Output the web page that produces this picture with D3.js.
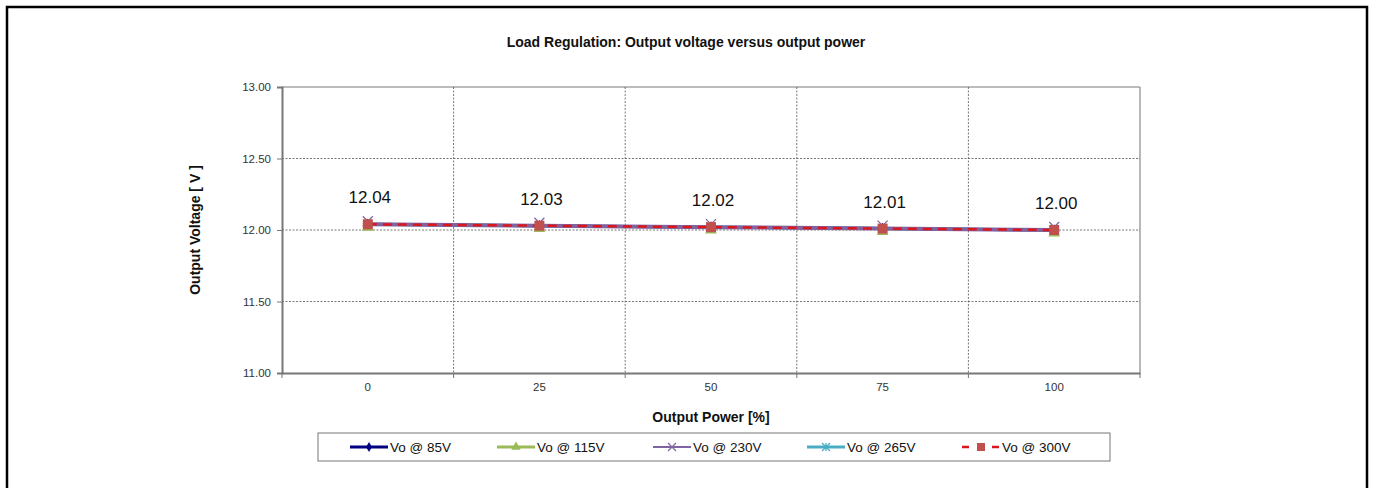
<!DOCTYPE html>
<html><head><meta charset="utf-8">
<script src="https://cdn.jsdelivr.net/npm/d3@7/dist/d3.min.js"></script>
<style>body{margin:0;background:#fff;}svg{display:block;font-family:"Liberation Sans",Arial,sans-serif;}</style>
</head><body>
<svg id="c" width="1373" height="488"></svg>
<script>
const categories = ["0","25","50","75","100"];
const vo85  = [12.04,12.03,12.02,12.01,12.00];
const vo115 = [12.04,12.03,12.02,12.01,12.00];
const vo230 = [12.04,12.03,12.02,12.01,12.00];
const vo265 = [12.04,12.03,12.02,12.01,12.00];
const vo300 = [12.04,12.03,12.02,12.01,12.00];
const dataLabels = ["12.04","12.03","12.02","12.01","12.00"];
const yTicks = [11.00,11.50,12.00,12.50,13.00];
const seriesNames = ["Vo @ 85V","Vo @ 115V","Vo @ 230V","Vo @ 265V","Vo @ 300V"];

const svg = d3.select("#c");
svg.append("path").attr("d","M7,490 L7,7 L1367,7 L1367,490").attr("fill","none").attr("stroke","#000").attr("stroke-width",2.5);

const L=282, R=1140, T=87, B=373;
const x = d3.scaleBand().domain(categories).range([L,R]).padding(0);
const y = d3.scaleLinear().domain([11,13]).range([B,T]);

svg.append("g").selectAll("line").data(yTicks.filter(v=>v>11)).join("line")
  .attr("x1",L).attr("x2",R).attr("y1",d=>y(d)).attr("y2",d=>y(d))
  .attr("stroke","#555").attr("stroke-width",0.8).attr("stroke-dasharray",d=>d===13?null:"2,1.5");
const bounds = categories.slice(1).map(c=>x(c));
svg.append("g").selectAll("line").data(bounds).join("line")
  .attr("x1",d=>d).attr("x2",d=>d).attr("y1",T).attr("y2",B)
  .attr("stroke","#555").attr("stroke-width",0.8).attr("stroke-dasharray","2,1.5");
svg.append("line").attr("x1",R).attr("x2",R).attr("y1",T).attr("y2",B).attr("stroke","#888").attr("stroke-width",1.2);

const ya = svg.append("g").attr("transform",`translate(${L},0)`)
  .call(d3.axisLeft(y).tickValues(yTicks).tickFormat(d3.format(".2f")).tickSize(5).tickPadding(6));
ya.select(".domain").attr("stroke","#777").attr("stroke-width",2);
ya.selectAll(".tick line").attr("stroke","#777");
ya.selectAll("text").attr("font-size",11.5).attr("fill","#333").attr("font-family","Liberation Sans, Arial, sans-serif");

const xa = svg.append("g").attr("transform",`translate(0,${B})`)
  .call(d3.axisBottom(x).tickSize(0).tickPadding(10));
xa.select(".domain").attr("stroke","#777").attr("stroke-width",2);
xa.selectAll("text").attr("font-size",11.5).attr("fill","#333").attr("font-family","Liberation Sans, Arial, sans-serif");
svg.append("g").selectAll("line").data(categories.map(c=>x(c)).concat([R])).join("line")
  .attr("x1",d=>d).attr("x2",d=>d).attr("y1",B).attr("y2",B+5).attr("stroke","#777").attr("stroke-width",1);

const cx = c => x(c)+x.bandwidth()/2;
const line = d3.line().x((d,i)=>cx(categories[i])).y(d=>y(d));

const styles = [
  {data:vo85, color:"#000080", w:3, dash:null, marker:"diamond"},
  {data:vo115, color:"#9BBB59", w:3, dash:null, marker:"triangle"},
  {data:vo230, color:"#8064A2", w:4, dash:null, marker:"x"},
  {data:vo265, color:"#4BACC6", w:2, dash:null, marker:"star"},
  {data:vo300, color:"#D9171C", w:2.5, dash:"9,6", marker:"square", mcolor:"#C0504D"}
];
const drawOrder = [0,1,3,2,4];

function drawMarker(g, type, cxp, cyp, color, size){
  if(type==="diamond"){
    g.append("path").attr("d",d3.symbol(d3.symbolDiamond, size*size*0.6)()).attr("transform",`translate(${cxp},${cyp})`).attr("fill",color);
  } else if(type==="triangle"){
    g.append("path").attr("d",d3.symbol(d3.symbolTriangle, size*size*0.6)()).attr("transform",`translate(${cxp},${cyp})`).attr("fill",color);
  } else if(type==="x"){
    const s=size/2;
    g.append("path").attr("d",`M${cxp-s},${cyp-s}L${cxp+s},${cyp+s}M${cxp-s},${cyp+s}L${cxp+s},${cyp-s}`).attr("stroke",color).attr("stroke-width",1.2);
  } else if(type==="star"){
    const s=size/2;
    g.append("path").attr("d",`M${cxp-s},${cyp-s}L${cxp+s},${cyp+s}M${cxp-s},${cyp+s}L${cxp+s},${cyp-s}M${cxp},${cyp-s}L${cxp},${cyp+s}`).attr("stroke",color).attr("stroke-width",1.2);
  } else if(type==="square"){
    g.append("rect").attr("x",cxp-size/2).attr("y",cyp-size/2).attr("width",size).attr("height",size).attr("fill",color);
  }
}

const plot = svg.append("g");
drawOrder.forEach(si=>{
  const s = styles[si];
  plot.append("path").datum(s.data).attr("d",line).attr("fill","none")
    .attr("stroke",s.color).attr("stroke-width",s.w).attr("stroke-dasharray",s.dash);
});
drawOrder.forEach(si=>{
  const s = styles[si];
  s.data.forEach((v,i)=>{
    const px = cx(categories[i]), py = y(v);
    if(s.marker==="triangle") drawMarker(plot,"triangle",px,py+3,s.color,10);
    else if(s.marker==="x") drawMarker(plot,"x",px,py-3,s.color,10);
    else if(s.marker==="square") drawMarker(plot,"square",px,py,s.mcolor||s.color,10);
    else drawMarker(plot,s.marker,px,py,s.color,8);
  });
});

svg.append("g").selectAll("text").data(vo300).join("text")
  .attr("x",(d,i)=>cx(categories[i])+2).attr("y",d=>y(d)-21)
  .attr("text-anchor","middle").attr("font-size",17).attr("fill","#111")
  .text((d,i)=>dataLabels[i]);

svg.append("text").attr("x",686).attr("y",47).attr("text-anchor","middle")
  .attr("font-size",14).attr("font-weight","bold").attr("fill","#111")
  .text("Load Regulation: Output voltage versus output power");
svg.append("text").attr("x",711).attr("y",422).attr("text-anchor","middle")
  .attr("font-size",14).attr("font-weight","bold").attr("fill","#111").text("Output Power [%]");
svg.append("text").attr("transform","translate(200,230) rotate(-90)").attr("text-anchor","middle")
  .attr("font-size",14).attr("font-weight","bold").attr("fill","#111").text("Output Voltage [ V ]");

svg.append("rect").attr("x",318).attr("y",433).attr("width",792).attr("height",28)
  .attr("fill","#fff").attr("stroke","#777").attr("stroke-width",1);
const legX = [350,497,653,807,962];
const lg = svg.append("g");
styles.forEach((s,i)=>{
  const x0 = legX[i], x1 = x0+38, ly = 447;
  lg.append("line").attr("x1",x0).attr("x2",x1).attr("y1",ly).attr("y2",ly)
    .attr("stroke",s.color).attr("stroke-width",s.marker==="square"?2.5:(s.marker==="x"?2:3))
    .attr("stroke-dasharray",s.dash?"7,8":null);
  const mx=(x0+x1)/2;
  if(s.marker==="square") drawMarker(lg,"square",mx,ly,s.mcolor,8);
  else if(s.marker==="diamond") drawMarker(lg,"diamond",mx,ly,s.color,7);
  else drawMarker(lg,s.marker,mx,ly,s.color,8);
  lg.append("text").attr("x",x1+2).attr("y",ly+5).attr("font-size",13.5).attr("fill","#111").text(seriesNames[i]);
});
</script>
</body></html>
